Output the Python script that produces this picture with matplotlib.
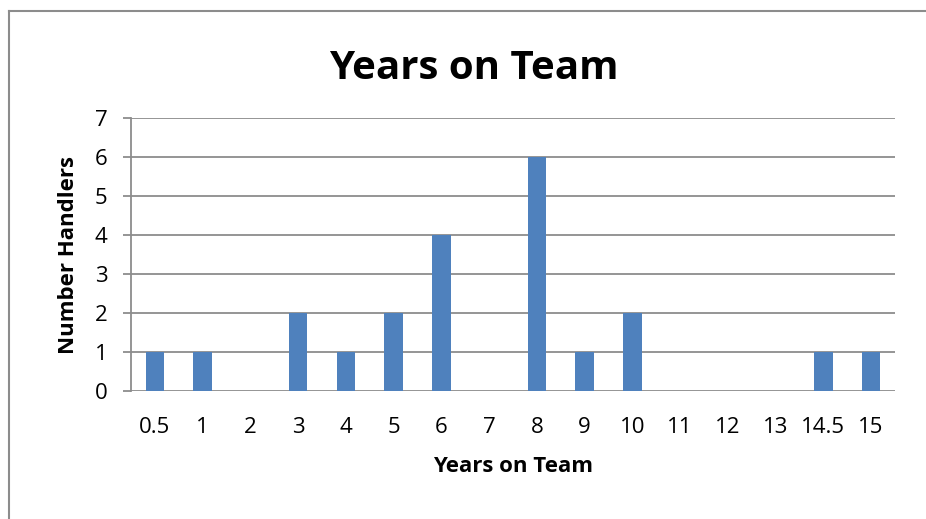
import matplotlib
matplotlib.use("Agg")
import matplotlib.pyplot as plt
from matplotlib.lines import Line2D

categories = ["0.5", "1", "2", "3", "4", "5", "6", "7", "8", "9", "10", "11", "12", "13", "14.5", "15"]
handlers = [1, 1, 0, 2, 1, 2, 4, 0, 6, 1, 2, 0, 0, 0, 1, 1]
y_ticks = [0, 1, 2, 3, 4, 5, 6, 7]

W, H = 926, 519
plt.rcParams['font.family'] = ['Open Sans', 'DejaVu Sans']
fig = plt.figure(figsize=(W / 100, H / 100), dpi=100)
fig.patch.set_facecolor('white')

x0, x1, y0, y1 = 131, 895, 391, 118
ax = fig.add_axes([x0 / W, 1 - y0 / H, (x1 - x0) / W, (y0 - y1) / H])
x = list(range(len(categories)))
ax.bar(x, handlers, width=0.39, color='#4F81BD', zorder=3)
ax.set_xlim(-0.5, len(categories) - 0.5)
ax.set_ylim(0, 7)
ax.set_yticks(y_ticks)
ax.set_xticks(x)
ax.set_xticklabels(categories)
ax.grid(axis='y', color='#8C8C8C', linewidth=1.3, zorder=0)
for s in ['top', 'right', 'bottom']:
    ax.spines[s].set_visible(False)
ax.spines['left'].set_color('#8C8C8C')
ax.spines['left'].set_linewidth(1.3)
ax.tick_params(axis='y', length=6, width=1.3, color='#8C8C8C', labelsize=16, pad=11)
ax.tick_params(axis='x', length=0, labelsize=16, pad=19)
ax.set_xlabel("Years on Team", fontsize=16, fontweight='bold')
ax.set_ylabel("Number Handlers", fontsize=16, fontweight='bold')
ax.xaxis.set_label_coords((513 - x0) / (x1 - x0), (y0 - 466) / (y0 - y1))
ax.xaxis.label.set_va('center')
ax.yaxis.set_label_coords((68 - x0) / (x1 - x0), (y0 - 255) / (y0 - y1))
ax.yaxis.label.set_va('center')
fig.text(473.5 / W, 1 - 79 / H, "Years on Team", fontsize=29, fontweight='bold', ha='center', va='baseline')

fig.add_artist(Line2D([8.5 / W, 8.5 / W], [0, 1 - 10.5 / H], transform=fig.transFigure, color='#8C8C8C', linewidth=1.5))
fig.add_artist(Line2D([8.5 / W, 1], [1 - 10.5 / H, 1 - 10.5 / H], transform=fig.transFigure, color='#8C8C8C', linewidth=1.5))

fig.savefig("out.png", dpi=100)
